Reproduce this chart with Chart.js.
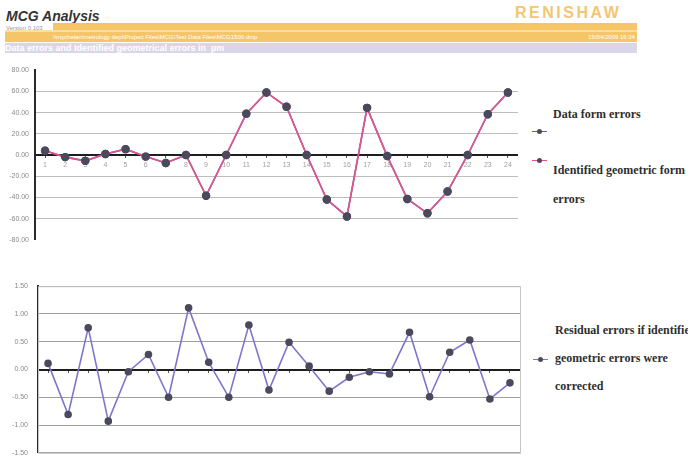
<!DOCTYPE html>
<html>
<head>
<meta charset="utf-8">
<script src="https://cdn.jsdelivr.net/npm/chart.js@4.4.1/dist/chart.umd.min.js"></script>
<style>
  html, body { margin: 0; padding: 0; background: #fff; }
  body { width: 688px; height: 467px; position: relative; overflow: hidden; font-family: "Liberation Sans", Arial, sans-serif; }
  .title { position: absolute; left: 6px; top: 8px; font-size: 14px; font-weight: bold; font-style: italic; color: #333; }
  .logo { position: absolute; left: 515px; top: 4px; font-family: "Liberation Sans Narrow", "Liberation Sans", sans-serif; font-size: 16px; font-weight: bold; letter-spacing: 2.5px; color: #f3c66f; }
  .version { position: absolute; left: 6px; top: 25px; font-size: 6px; color: #999; }
  .bar { position: absolute; }
  .bar1 { left: 53px; top: 23px; width: 584px; height: 7px; background: #f5c568; }
  .bar1b { left: 5px; top: 30px; width: 632px; height: 2px; background: #fadfa6; }
  .bar2 { left: 5px; top: 32px; width: 632px; height: 10px; background: #f5c56a; color: #fff; font-size: 6px; line-height: 10px; }
  .bar2 .path { position: absolute; left: 48px; }
  .bar2 .date { position: absolute; right: 2px; }
  .bar3 { left: 5px; top: 43px; width: 632px; height: 10px; background: #d9d6ea; color: #fff; font-size: 9px; font-weight: bold; line-height: 10px; white-space: nowrap; }
  .chartbox { position: absolute; }
  .legend { position: absolute; font-family: "Liberation Serif", "DejaVu Serif", serif; font-weight: bold; font-size: 12px; color: #2e2e2e; white-space: nowrap; }
  .mk { position: absolute; height: 1px; }
  .mk::after { content: ""; position: absolute; left: 5px; top: -2px; width: 5px; height: 5px; border-radius: 50%; background: #4a4a5c; }
</style>
</head>
<body>
<div class="title">MCG Analysis</div>
<div class="logo">RENISHAW</div>
<div class="version">Version 0.103</div>
<div class="bar bar1"></div>
<div class="bar bar1b"></div>
<div class="bar bar2"><span class="path">\\mychelan\metrology dept\Project Files\MCG\Test Data Files\MCG1500.dmp</span><span class="date">15/04/2009 16:34</span></div>
<div class="bar bar3">Data errors and Identified geometrical errors in &nbsp;µm</div>

<div class="chartbox" style="left:0;top:60px;width:530px;height:190px;"><canvas id="topChart" width="530" height="190"></canvas></div>
<div class="chartbox" style="left:0;top:272px;width:530px;height:195px;"><canvas id="bottomChart" width="530" height="195"></canvas></div>

<div class="mk" style="left:532px;top:131px;width:15px;background:#5b5bb0;"></div>
<div class="legend" style="left:553px;top:107px;">Data form errors</div>
<div class="mk" style="left:532px;top:160px;width:15px;background:#e3548c;"></div>
<div class="legend" style="left:553px;top:163px;">Identified geometric form</div>
<div class="legend" style="left:553px;top:192px;">errors</div>

<div class="mk" style="left:533px;top:359px;width:15px;background:#7d76cc;"></div>
<div class="legend" style="left:555px;top:323px;">Residual errors if identified</div>
<div class="legend" style="left:555px;top:351px;">geometric errors were</div>
<div class="legend" style="left:555px;top:379px;">corrected</div>

<script>
// Measurement positions along the artefact
const positions = ['1','2','3','4','5','6','7','8','9','10','11','12','13','14','15','16','17','18','19','20','21','22','23','24'];

// Form errors in µm
const dataFormErrors = [4, -2, -5.5, 1, 5.5, -1.5, -7.5, 0, -38.5, 0, 39, 59, 45.5, 0, -42, -58, 44.5, -1, -41.5, -55, -34.5, 0, 38.5, 59];
const identifiedGeometricErrors = [4, -2, -5.5, 1, 5.5, -1.5, -7.5, 0, -38.5, 0, 39, 59, 45.5, 0, -42, -58, 44.5, -1, -41.5, -55, -34.5, 0, 38.5, 59];

// Errors remaining after geometric correction, µm
const residualErrors = [0.11, -0.81, 0.75, -0.93, -0.04, 0.27, -0.50, 1.11, 0.13, -0.50, 0.80, -0.37, 0.49, 0.06, -0.39, -0.14, -0.04, -0.08, 0.67, -0.49, 0.31, 0.53, -0.53, -0.24];

// Value axis ticks
const topTicks = [80, 60, 40, 20, 0, -20, -40, -60, -80];
const bottomTicks = [1.5, 1.0, 0.5, 0, -0.5, -1.0, -1.5];

const markerColor = '#4a4a5c';
const tickFont = { family: 'Liberation Sans, Arial, sans-serif', size: 7 };

function fixedWidth(w) {
  return function (scale) { scale.width = w; };
}

const frame = {
  id: 'frame',
  beforeDatasetsDraw(chart, args, opts) {
    if (!opts.draw) return;
    const a = chart.chartArea;
    const c = chart.ctx;
    c.save();
    c.strokeStyle = '#c4c4c4';
    c.lineWidth = 1;
    c.strokeRect(a.left + 0.5, a.top + 0.5, a.right - a.left, a.bottom - a.top);
    c.restore();
  }
};

new Chart(document.getElementById('topChart'), {
  type: 'line',
  data: {
    labels: positions,
    datasets: [
      {
        label: 'Identified geometric form errors',
        data: identifiedGeometricErrors,
        borderColor: '#e3548c',
        borderWidth: 1.6,
        pointRadius: 3.4,
        pointBackgroundColor: markerColor,
        pointBorderColor: markerColor,
        tension: 0,
        order: 1
      },
      {
        label: 'Data form errors',
        data: dataFormErrors,
        borderColor: '#5b5bb0',
        borderWidth: 1.6,
        pointRadius: 3.4,
        pointBackgroundColor: markerColor,
        pointBorderColor: markerColor,
        tension: 0,
        order: 2
      }
    ]
  },
  options: {
    responsive: false,
    animation: false,
    layout: { padding: { left: 0, right: 12, top: 10, bottom: 10 } },
    plugins: { legend: { display: false }, tooltip: { enabled: false }, frame: { draw: false } },
    scales: {
      x: {
        type: 'category',
        position: { y: 0 },
        offset: true,
        grid: { display: true, drawOnChartArea: false, tickLength: 3, color: '#555' },
        border: { display: false },
        ticks: { color: '#a0a0a0', font: tickFont, padding: 3, maxRotation: 0, autoSkip: false }
      },
      y: {
        min: -80,
        max: 80,
        afterFit: fixedWidth(35),
        afterBuildTicks(scale) { scale.ticks = topTicks.map(v => ({ value: v })); },
        grid: {
          drawTicks: false,
          color(ctx) {
            const v = ctx.tick.value;
            if (v === 0) return '#1e1e1e';
            if (Math.abs(v) === 80) return 'rgba(0,0,0,0)';
            return '#bdbdbd';
          },
          lineWidth(ctx) { return ctx.tick.value === 0 ? 2 : 1; }
        },
        border: { display: true, color: '#2a2a2a', width: 2 },
        ticks: { color: '#8a8a8a', font: tickFont, padding: 6, callback: v => Number(v).toFixed(2) }
      }
    }
  },
  plugins: [frame]
});

new Chart(document.getElementById('bottomChart'), {
  type: 'line',
  data: {
    labels: positions,
    datasets: [
      {
        label: 'Residual errors if identified geometric errors were corrected',
        data: residualErrors,
        borderColor: '#7d76cc',
        borderWidth: 1.6,
        pointRadius: 3,
        pointBackgroundColor: markerColor,
        pointBorderColor: markerColor,
        tension: 0
      }
    ]
  },
  options: {
    responsive: false,
    animation: false,
    layout: { padding: { left: 0, right: 10, top: 11, bottom: 7 } },
    plugins: { legend: { display: false }, tooltip: { enabled: false }, frame: { draw: true } },
    scales: {
      x: {
        type: 'category',
        position: { y: 0 },
        offset: true,
        grid: { display: true, drawOnChartArea: false, tickLength: 3, color: '#555' },
        border: { display: false },
        ticks: { display: false }
      },
      y: {
        min: -1.5,
        max: 1.5,
        afterFit: fixedWidth(38),
        afterBuildTicks(scale) { scale.ticks = bottomTicks.map(v => ({ value: v })); },
        grid: {
          drawTicks: false,
          color(ctx) { return ctx.tick.value === 0 ? '#1e1e1e' : '#9e9e9e'; },
          lineWidth(ctx) { return ctx.tick.value === 0 ? 2 : 1; }
        },
        border: { display: true, color: '#2a2a2a', width: 2 },
        ticks: { color: '#8a8a8a', font: tickFont, padding: 10, callback: v => Number(v).toFixed(2) }
      }
    }
  },
  plugins: [frame]
});
</script>
</body>
</html>
